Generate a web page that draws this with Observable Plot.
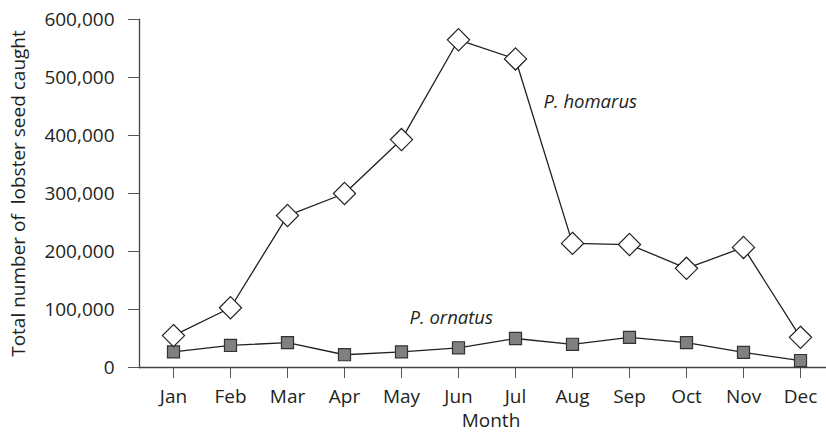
<!DOCTYPE html>
<html>
<head>
<meta charset="utf-8">
<script src="https://cdn.jsdelivr.net/npm/d3@7"></script>
<script src="https://cdn.jsdelivr.net/npm/@observablehq/plot@0.6"></script>
<style>
  html, body { margin: 0; padding: 0; background: #fff; }
  #chart svg { display: block; }
</style>
</head>
<body>
<div id="chart"></div>
<script>
const months = ["Jan","Feb","Mar","Apr","May","Jun","Jul","Aug","Sep","Oct","Nov","Dec"];
const homarus = [55000, 103000, 262000, 300000, 393000, 565000, 532000, 214000, 212000, 171000, 207000, 52000];
const ornatus = [27000, 38000, 43000, 22000, 27000, 34000, 50000, 40000, 52000, 43000, 26000, 12000];
const yTicks = [0, 100000, 200000, 300000, 400000, 500000, 600000];

const homData = months.map((m, i) => ({month: m, value: homarus[i]}));
const ornData = months.map((m, i) => ({month: m, value: ornatus[i]}));

const font = "'Open Sans', sans-serif";
const fmt = d3.format(",");

const chart = Plot.plot({
  width: 826,
  height: 433,
  marginLeft: 139,
  marginRight: 0,
  marginTop: 19,
  marginBottom: 66,
  style: {fontFamily: font, fontSize: "19px", color: "#231f20", background: "#fff"},
  x: {type: "point", domain: months, range: [168, 805], padding: 0},
  y: {domain: [0, 600000]},
  marks: [
    Plot.axisY({ticks: yTicks, tickFormat: fmt, tickSize: 11, tickPadding: 14, label: null, stroke: "#555", fontSize: 19}),
    Plot.axisX({tickSize: 11, tickPadding: 11, label: null, stroke: "#555", fontSize: 19}),
    Plot.frame({anchor: "left", stroke: "#444", strokeWidth: 1.3}),
    Plot.ruleY([0], {stroke: "#444", strokeWidth: 1.3}),
    Plot.line(ornData, {x: "month", y: "value", stroke: "#231f20", strokeWidth: 1.3}),
    Plot.line(homData, {x: "month", y: "value", stroke: "#231f20", strokeWidth: 1.3}),
    Plot.dot(ornData, {x: "month", y: "value", symbol: "square", r: 6.8, fill: "#808080", stroke: "#333", strokeWidth: 1.2}),
    Plot.dot(homData, {x: "month", y: "value", symbol: "diamond2", r: 10, fill: "#fff", stroke: "#231f20", strokeWidth: 1.2}),
    Plot.text(["P. homarus"], {x: () => "Jul", y: () => 458000, dx: 28, text: d => d, textAnchor: "start", fontStyle: "italic", fontSize: 18.5, fill: "#231f20"}),
    Plot.text(["P. ornatus"], {x: () => "May", y: () => 84500, dx: 8, text: d => d, textAnchor: "start", fontStyle: "italic", fontSize: 18.5, fill: "#231f20"}),
    Plot.text(["Month"], {frameAnchor: "bottom", dy: 53, dx: 8, text: d => d, textAnchor: "middle", lineAnchor: "middle", fontSize: 19, fill: "#231f20"}),
    Plot.text(["Total number of  lobster seed caught"], {frameAnchor: "left", dx: -121, rotate: -90, text: d => d, textAnchor: "middle", lineAnchor: "middle", fontSize: 19, fill: "#231f20"})
  ]
});
document.getElementById("chart").appendChild(chart);
</script>
</body>
</html>
